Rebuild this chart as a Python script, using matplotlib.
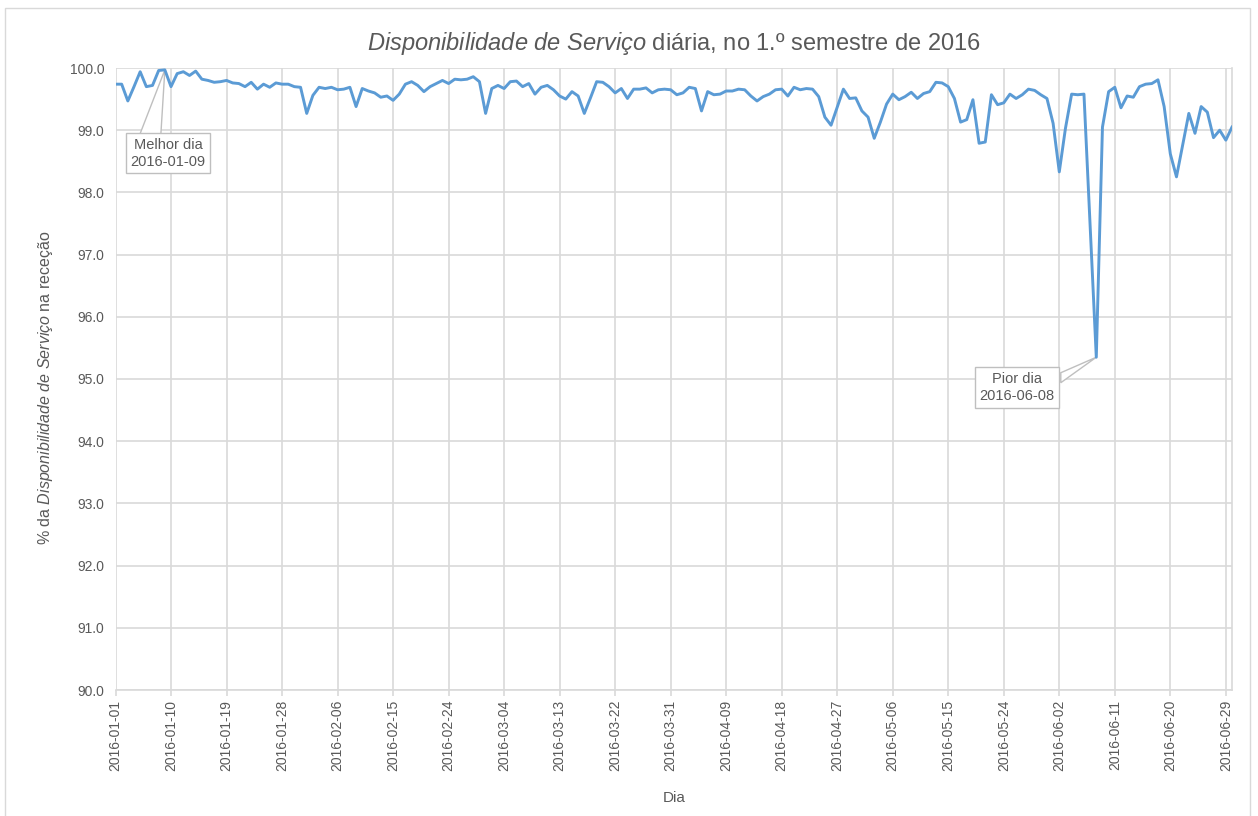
import matplotlib
matplotlib.use("Agg")
import matplotlib.pyplot as plt
import matplotlib.dates as mdates
import matplotlib.transforms as mtransforms
from matplotlib.patches import Rectangle, Polygon
import numpy as np
import pandas as pd

# daily availability values, 2016-01-01 .. 2016-06-30
start_date = "2016-01-01"
end_date = "2016-06-30"
availability = [
    99.74, 99.74, 99.47, 99.70, 99.94, 99.70, 99.72, 99.96, 99.97, 99.70,
    99.91, 99.94, 99.88, 99.95, 99.82, 99.80, 99.77, 99.78, 99.80, 99.76,
    99.75, 99.70, 99.77, 99.66, 99.74, 99.69, 99.76, 99.74, 99.74, 99.70,
    99.69, 99.27, 99.56, 99.69, 99.67, 99.69, 99.65, 99.66, 99.69, 99.38,
    99.67, 99.63, 99.60, 99.53, 99.55, 99.48, 99.58, 99.74, 99.78, 99.72,
    99.62, 99.70, 99.75, 99.80, 99.75, 99.82, 99.81, 99.82, 99.86, 99.78,
    99.27, 99.67, 99.72, 99.67, 99.78, 99.79, 99.70, 99.75, 99.58, 99.69,
    99.72, 99.65, 99.55, 99.50, 99.62, 99.55, 99.27, 99.52, 99.78, 99.77,
    99.70, 99.60, 99.67, 99.51, 99.66, 99.66, 99.68, 99.60, 99.65, 99.66,
    99.65, 99.57, 99.60, 99.69, 99.67, 99.31, 99.62, 99.57, 99.58, 99.63,
    99.63, 99.66, 99.65, 99.55, 99.47, 99.54, 99.58, 99.65, 99.66, 99.55,
    99.69, 99.65, 99.67, 99.66, 99.54, 99.21, 99.08, 99.37, 99.66, 99.51,
    99.52, 99.31, 99.21, 98.87, 99.13, 99.42, 99.58, 99.49, 99.54, 99.61,
    99.51, 99.59, 99.62, 99.77, 99.76, 99.70, 99.51, 99.13, 99.17, 99.49,
    98.79, 98.81, 99.57, 99.41, 99.44, 99.58, 99.51, 99.57, 99.66, 99.64,
    99.57, 99.51, 99.11, 98.33, 99.03, 99.58, 99.57, 99.58, 97.45, 95.35,
    99.05, 99.62, 99.69, 99.36, 99.55, 99.53, 99.70, 99.74, 99.75, 99.81,
    99.38, 98.62, 98.25, 98.76, 99.27, 98.95, 99.38, 99.29, 98.88, 99.00,
    98.84, 99.05,
]
y_ticks = np.arange(90, 100.5, 1.0)

dates = pd.date_range(start_date, end_date, freq="D")
s = pd.Series(availability, index=dates)

grey_txt = "#595959"
grid_col = "#d9d9d9"
line_col = "#5B9BD5"
box_col = "#bfbfbf"

plt.rcParams["font.family"] = ["Liberation Sans", "DejaVu Sans"]
plt.rcParams["mathtext.fontset"] = "custom"
plt.rcParams["mathtext.rm"] = "Liberation Sans"
plt.rcParams["mathtext.it"] = "Liberation Sans:italic"

W, H = 1258, 816
fig = plt.figure(figsize=(W / 100, H / 100), dpi=100)
ax = fig.add_axes([115.5 / W, 1 - 690 / H, (1232 - 115.5) / W, (690 - 68) / H])

# outer chart border
fig.add_artist(Rectangle((5 / W, -0.02), 1245 / W, 1.02 - 8 / H,
                         transform=fig.transFigure, fill=False,
                         ec=grid_col, lw=1.0))

ax.plot(s.index, s.values, color=line_col, lw=2.1, zorder=3,
        solid_joinstyle="round")

ax.set_xlim(dates[0], dates[-1])
ax.set_ylim(90, 100)
ax.set_yticks(y_ticks)
ax.yaxis.set_major_formatter(plt.FormatStrFormatter("%.1f"))
ax.set_xticks(dates[::9])
ax.xaxis.set_major_formatter(mdates.DateFormatter("%Y-%m-%d"))

ax.grid(True, color=grid_col, lw=1.2)
ax.set_axisbelow(True)
for side in ["top", "left"]:
    ax.spines[side].set_visible(False)
for side in ["bottom", "right"]:
    ax.spines[side].set_color(grid_col)
    ax.spines[side].set_linewidth(1.2)

ax.tick_params(axis="x", labelrotation=90, labelsize=10, colors=grey_txt,
               length=4, width=1.2, color=grid_col, pad=3)
ax.tick_params(axis="y", labelsize=10, colors=grey_txt, length=0, pad=8)

ax.set_title(r"$\mathit{Disponibilidade\ de\ Serviço}$ diária, no 1.º semestre de 2016",
             fontsize=17, color=grey_txt, pad=13)
ax.set_xlabel("Dia", fontsize=11, color=grey_txt, labelpad=14)
ax.set_ylabel(r"% da $\mathit{Disponibilidade\ de\ Serviço}$ na receção",
              fontsize=11.5, color=grey_txt)
ax.yaxis.set_label_coords(-0.054, 0.486)

# callouts for best and worst days
best_day = s.idxmax()
worst_day = s.idxmin()


def callout(day, text, text_off, wedge_base):
    x = mdates.date2num(day)
    y = s[day]
    # wedge from the box edge to the point, offsets in inches
    trans = fig.dpi_scale_trans + mtransforms.ScaledTranslation(x, y, ax.transData)
    ax.add_patch(Polygon([(0, 0)] + wedge_base, closed=True, transform=trans,
                         fc="white", ec=box_col, lw=1.0, zorder=2))
    ax.annotate(text, xy=(x, y), xytext=text_off, textcoords="offset points",
                ha="center", va="center", fontsize=10.5, color=grey_txt,
                linespacing=1.3, zorder=2.5,
                bbox=dict(boxstyle="square,pad=0.3", fc="white", ec=box_col, lw=1.0))


callout(best_day, f"Melhor dia\n{best_day:%Y-%m-%d}", (2.2, -60),
        [(-0.25, -0.645), (-0.04, -0.645)])
callout(worst_day, f"Pior dia\n{worst_day:%Y-%m-%d}", (-57, -21.8),
        [(-0.355, -0.155), (-0.355, -0.255)])

fig.savefig("out.png", dpi=100)
